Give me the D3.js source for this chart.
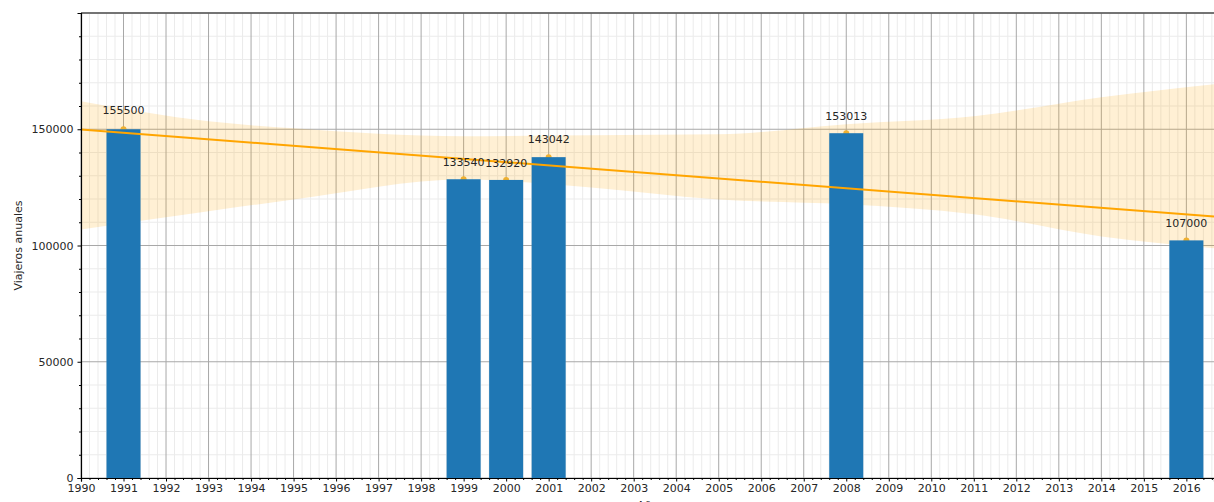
<!DOCTYPE html>
<html>
<head>
<meta charset="utf-8">
<script src="https://cdn.jsdelivr.net/npm/d3@7"></script>
<style>
  body { margin: 0; background: #fff; }
  svg { display: block; font-family: "DejaVu Sans", sans-serif; }
</style>
</head>
<body>
<div id="chart"></div>
<script>
// Data
const years = [1991, 1999, 2000, 2001, 2008, 2016];
const barValues = [150000, 128500, 128200, 138000, 148300, 102200];
const labelValues = [155500, 133540, 132920, 143042, 153013, 107000];

// regression line endpoints
const trendYears = [1990, 2016.65];
const trendValues = [149900, 112500];

// confidence band
const bandYears = [1990, 1993, 1995, 1999, 2002, 2005, 2008, 2011, 2014, 2016.65];
const bandUpper = [162000, 153400, 150400, 147000, 147400, 147800, 152200, 155600, 163800, 169400];
const bandLower = [106900, 114700, 119800, 128400, 125000, 119800, 117700, 113400, 103900, 98800];

const yMajorTicks = [0, 50000, 100000, 150000];

const width = 1214, height = 502;
const margin = { top: 13, right: 0, bottom: 24, left: 81 };

const svg = d3.select("#chart")
    .append("svg")
    .attr("width", width)
    .attr("height", height);

const scaleX = d3.scaleLinear()
    .domain([1990, 2016.65])
    .range([margin.left, width - margin.right]);

const scaleY = d3.scaleLinear()
    .domain([0, 200000])
    .range([height - margin.bottom, margin.top]);

const x0 = scaleX.range()[0], x1 = scaleX.range()[1];
const y0 = scaleY.range()[0], y1 = scaleY.range()[1];

// minor grid
const xMinor = d3.range(1990, 2016.66, 0.2).filter(v => Math.abs(v - Math.round(v)) > 0.01);
const yMinor = d3.range(0, 200001, 10000).filter(v => v % 50000 !== 0);
const xMajor = d3.range(1990, 2017);

svg.append("g")
    .selectAll("line")
    .data(xMinor)
    .join("line")
    .attr("x1", d => scaleX(d)).attr("x2", d => scaleX(d))
    .attr("y1", y0).attr("y2", y1)
    .attr("stroke", "#ebebeb").attr("stroke-width", 1);

svg.append("g")
    .selectAll("line")
    .data(yMinor)
    .join("line")
    .attr("y1", d => scaleY(d)).attr("y2", d => scaleY(d))
    .attr("x1", x0).attr("x2", x1)
    .attr("stroke", "#ebebeb").attr("stroke-width", 1);

// major grid
svg.append("g")
    .selectAll("line")
    .data(xMajor)
    .join("line")
    .attr("x1", d => scaleX(d)).attr("x2", d => scaleX(d))
    .attr("y1", y0).attr("y2", y1)
    .attr("stroke", "#a8a8a8").attr("stroke-width", 1);

svg.append("g")
    .selectAll("line")
    .data(yMajorTicks.concat([200000]))
    .join("line")
    .attr("y1", d => scaleY(d)).attr("y2", d => scaleY(d))
    .attr("x1", x0).attr("x2", x1)
    .attr("stroke", "#a8a8a8").attr("stroke-width", 1);

// confidence band
const band = bandYears.map((d, i) => ({ year: d, lo: bandLower[i], hi: bandUpper[i] }));
svg.append("path")
    .datum(band)
    .attr("d", d3.area()
        .x(d => scaleX(d.year))
        .y0(d => scaleY(d.lo))
        .y1(d => scaleY(d.hi))
        .curve(d3.curveMonotoneX))
    .attr("fill", "#ffa500")
    .attr("fill-opacity", 0.17);

// scatter points (behind the bars)
svg.append("g")
    .selectAll("circle")
    .data(years)
    .join("circle")
    .attr("cx", d => scaleX(d))
    .attr("cy", (d, i) => scaleY(barValues[i]))
    .attr("r", 3)
    .attr("fill", "#f0b030");

// bars
svg.append("g")
    .selectAll("rect")
    .data(years)
    .join("rect")
    .attr("x", d => scaleX(d - 0.4))
    .attr("width", d => scaleX(d + 0.4) - scaleX(d - 0.4))
    .attr("y", (d, i) => scaleY(barValues[i]))
    .attr("height", (d, i) => y0 - scaleY(barValues[i]))
    .attr("fill", "#1f77b4");

// regression line
svg.append("path")
    .datum(trendYears.map((d, i) => [d, trendValues[i]]))
    .attr("d", d3.line()
        .x(d => scaleX(d[0]))
        .y(d => scaleY(d[1])))
    .attr("stroke", "#ffa500")
    .attr("stroke-width", 2)
    .attr("fill", "none");

// value labels
svg.append("g")
    .selectAll("text")
    .data(years)
    .join("text")
    .attr("x", d => scaleX(d))
    .attr("y", (d, i) => scaleY(labelValues[i]) - 2)
    .attr("text-anchor", "middle")
    .attr("font-size", 11)
    .attr("fill", "#262626")
    .text((d, i) => labelValues[i]);

// spines
svg.append("line")
    .attr("x1", x0).attr("x2", x1).attr("y1", y1).attr("y2", y1)
    .attr("stroke", "#555").attr("stroke-width", 1.5);

// X-Axis
const xAxis = svg.append("g")
    .attr("transform", "translate(0," + y0 + ")")
    .call(d3.axisBottom(scaleX)
        .tickValues(xMajor)
        .tickFormat(d3.format("d"))
        .tickSize(3.5)
        .tickPadding(3));

svg.append("g")
    .attr("transform", "translate(0," + y0 + ")")
    .call(d3.axisBottom(scaleX).tickValues(xMinor).tickSize(2).tickFormat(""))
    .select(".domain").remove();

// Y-Axis
const yAxis = svg.append("g")
    .attr("transform", "translate(" + x0 + ",0)")
    .call(d3.axisLeft(scaleY)
        .tickValues(yMajorTicks)
        .tickFormat(d3.format("d"))
        .tickSize(3.5)
        .tickPadding(4));

svg.append("g")
    .attr("transform", "translate(" + x0 + ",0)")
    .call(d3.axisLeft(scaleY).tickValues(yMinor).tickSize(2).tickFormat(""))
    .select(".domain").remove();

[xAxis, yAxis].forEach(a => {
    a.select(".domain").attr("stroke", "#000").attr("stroke-width", 1.2);
    a.selectAll("text").attr("font-size", 11).attr("fill", "#262626")
        .attr("font-family", "DejaVu Sans, sans-serif");
});

// axis titles
svg.append("text")
    .attr("transform", "translate(22," + ((y0 + y1) / 2) + ") rotate(-90)")
    .attr("text-anchor", "middle")
    .attr("font-size", 11)
    .attr("fill", "#262626")
    .text("Viajeros anuales");

svg.append("text")
    .attr("x", (x0 + x1) / 2)
    .attr("y", 509)
    .attr("text-anchor", "middle")
    .attr("font-size", 11)
    .attr("fill", "#262626")
    .text("Año");
</script>
</body>
</html>
